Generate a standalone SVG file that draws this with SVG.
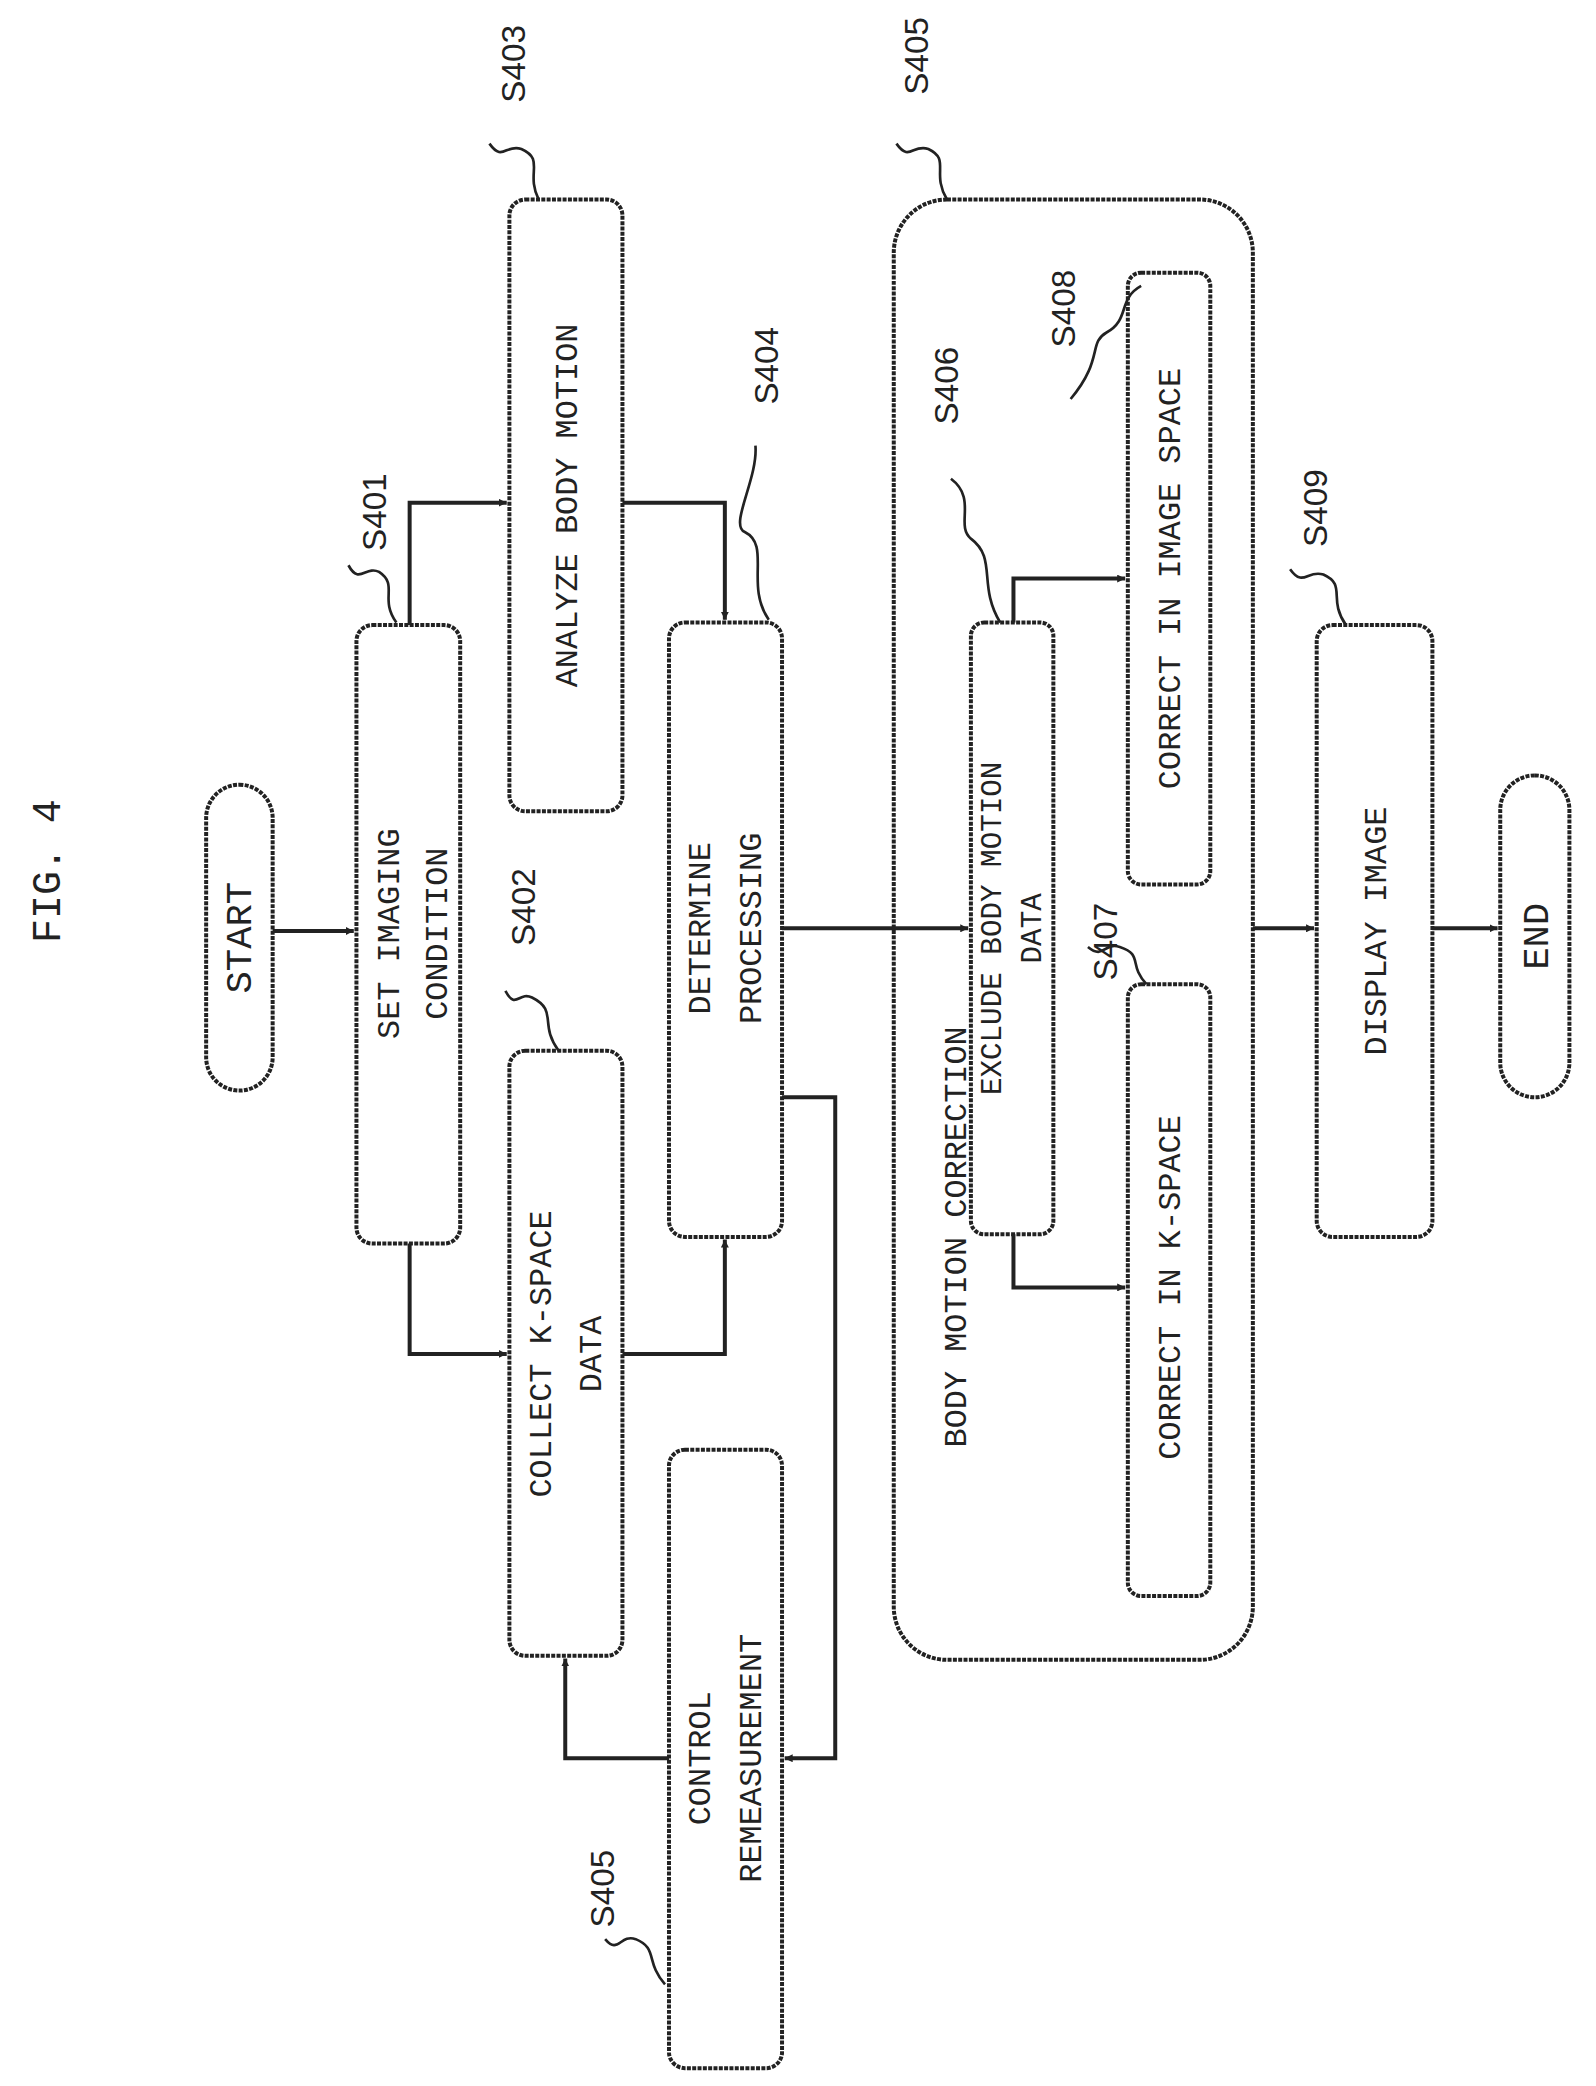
<svg xmlns="http://www.w3.org/2000/svg" width="1596" height="2086" viewBox="0 0 1596 2086">
<defs>
<style>
.b{fill:#fff;stroke:#222;stroke-width:3;stroke-dasharray:3 1}
.c{fill:none;stroke:#222;stroke-width:3}
.l{fill:none;stroke:#222;stroke-width:2}
text{font-family:"Liberation Mono","DejaVu Sans Mono",monospace;font-size:24px;fill:#222;text-anchor:middle}
.s{font-family:"Liberation Sans",Arial,sans-serif;font-size:25px}
</style>
<marker id="a" viewBox="0 0 10 10" refX="10" refY="5" markerWidth="6" markerHeight="6" orient="auto" markerUnits="userSpaceOnUse"><path d="M0,0L10,5L0,10z" fill="#222"/></marker>
</defs>
<rect width="1596" height="2086" fill="#fff"/>
<g transform="scale(1.33)">
<text transform="translate(45,655) rotate(-90)" style="font-size:30px">FIG. 4</text>
<g id="start"><rect class="b" x="155" y="590" width="50" height="230" rx="25"/><text transform="translate(189,705) rotate(-90)" style="font-size:28px">START</text></g>
<g id="s401"><rect class="b" x="268" y="470" width="78" height="465" rx="12"/><text transform="translate(300,702) rotate(-90)">SET IMAGING<tspan x="0" dy="36">CONDITION</tspan></text></g>
<g id="s403"><rect class="b" x="383" y="150" width="85" height="460" rx="12"/><text transform="translate(434,380) rotate(-90)">ANALYZE BODY MOTION</text></g>
<g id="s402"><rect class="b" x="383" y="790" width="85" height="455" rx="12"/><text transform="translate(414,1018) rotate(-90)">COLLECT K-SPACE<tspan x="0" dy="38">DATA</tspan></text></g>
<g id="s405b"><rect class="b" x="503" y="1090" width="85" height="465" rx="12"/><text transform="translate(534,1322) rotate(-90)">CONTROL<tspan x="0" dy="38">REMEASUREMENT</tspan></text></g>
<g id="s404"><rect class="b" x="503" y="468" width="85" height="462" rx="12"/><text transform="translate(534,698) rotate(-90)">DETERMINE<tspan x="0" dy="38">PROCESSING</tspan></text></g>
<g id="s405"><rect class="b" x="672" y="150" width="270" height="1098" rx="40"/><text transform="translate(726,930) rotate(-90)">BODY MOTION CORRECTION</text></g>
<g id="s406"><rect class="b" x="730" y="468" width="62" height="460" rx="10"/><text transform="translate(753,698) rotate(-90)" style="font-size:22px">EXCLUDE BODY MOTION<tspan x="0" dy="30">DATA</tspan></text></g>
<g id="s408"><rect class="b" x="848" y="205" width="62" height="460" rx="10"/><text transform="translate(887,435) rotate(-90)">CORRECT IN IMAGE SPACE</text></g>
<g id="s407"><rect class="b" x="848" y="740" width="62" height="460" rx="10"/><text transform="translate(887,968) rotate(-90)">CORRECT IN K-SPACE</text></g>
<g id="s409"><rect class="b" x="990" y="470" width="87" height="460" rx="12"/><text transform="translate(1042,700) rotate(-90)">DISPLAY IMAGE</text></g>
<g id="end"><rect class="b" x="1128" y="583" width="52" height="242" rx="26"/><text transform="translate(1164,704) rotate(-90)" style="font-size:28px">END</text></g>
<g id="connectors">
<path class="c" marker-end="url(#a)" d="M205,700H266"/>
<path class="c" marker-end="url(#a)" d="M308,470V378H381"/>
<path class="c" marker-end="url(#a)" d="M308,935V1018H381"/>
<path class="c" marker-end="url(#a)" d="M468,378H545V466"/>
<path class="c" marker-end="url(#a)" d="M468,1018H545V932"/>
<path class="c" marker-end="url(#a)" d="M588,698H728"/>
<path class="c" marker-end="url(#a)" d="M588,825H628V1322H590"/>
<path class="c" marker-end="url(#a)" d="M503,1322H425V1247"/>
<path class="c" marker-end="url(#a)" d="M762,468V435H846"/>
<path class="c" marker-end="url(#a)" d="M762,928V968H846"/>
<path class="c" marker-end="url(#a)" d="M942,698H988"/>
<path class="c" marker-end="url(#a)" d="M1077,698H1126"/>
</g>
<g id="labels">
<text class="s" transform="translate(290,385) rotate(-90)">S401</text><path class="l" d="M298,468C285,450 300,440 285,430C275,425 270,440 262,425"/>
<text class="s" transform="translate(402,682) rotate(-90)">S402</text><path class="l" d="M420,790C405,770 420,760 400,750C390,745 388,760 380,745"/>
<text class="s" transform="translate(395,48) rotate(-90)">S403</text><path class="l" d="M405,150C395,130 410,120 392,112C380,108 378,122 368,108"/>
<text class="s" transform="translate(585,275) rotate(-90)">S404</text><path class="l" d="M578,466C560,440 580,410 560,400C548,395 570,360 568,335"/>
<text class="s" transform="translate(698,42) rotate(-90)">S405</text><path class="l" d="M712,150C700,130 715,120 698,112C686,108 684,122 674,108"/>
<text class="s" transform="translate(462,1420) rotate(-90)">S405</text><path class="l" d="M500,1492C485,1475 495,1465 478,1458C466,1454 465,1470 455,1458"/>
<text class="s" transform="translate(720,290) rotate(-90)">S406</text><path class="l" d="M752,468C735,440 750,420 730,405C718,395 735,375 715,360"/>
<text class="s" transform="translate(840,708) rotate(-90)">S407</text><path class="l" d="M862,740C848,725 860,718 842,712C830,708 830,722 818,712"/>
<text class="s" transform="translate(808,232) rotate(-90)">S408</text><path class="l" d="M858,215C840,225 850,240 832,250C818,258 830,270 805,300"/>
<text class="s" transform="translate(998,382) rotate(-90)">S409</text><path class="l" d="M1012,470C998,450 1013,440 995,432C983,428 980,442 970,428"/>
</g>
</g>
</svg>
